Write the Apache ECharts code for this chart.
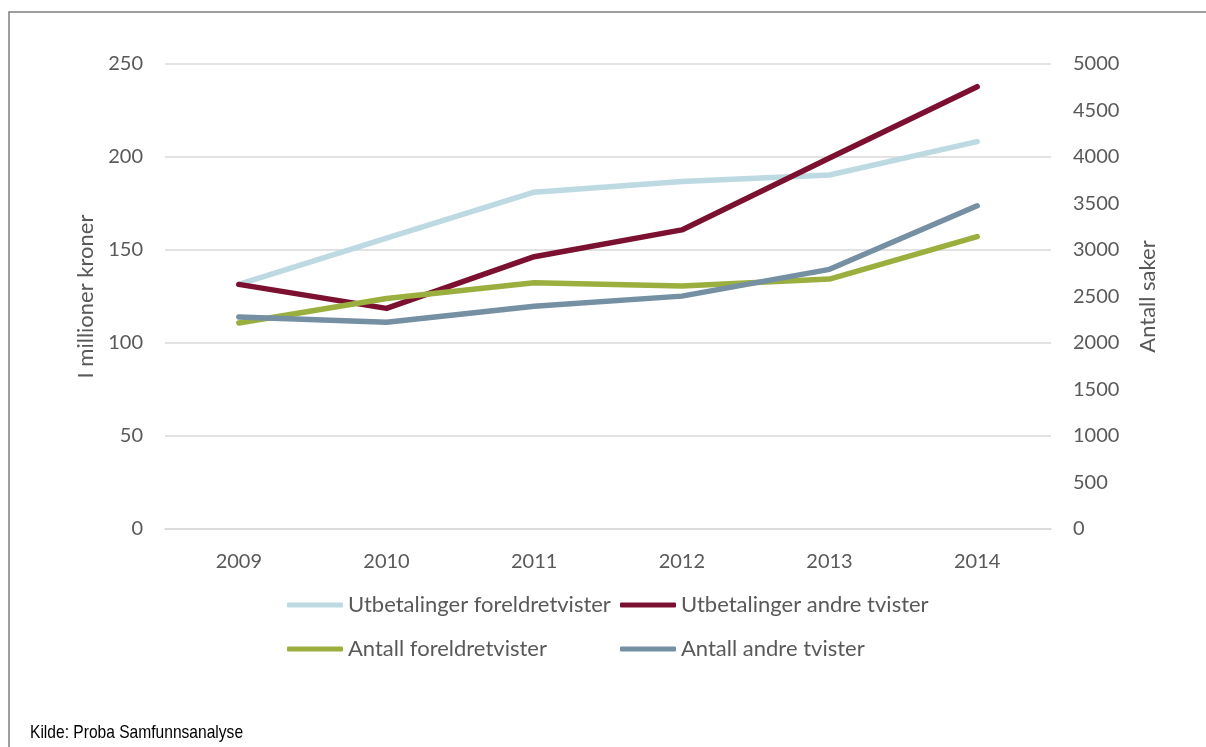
<!DOCTYPE html>
<html>
<head>
<meta charset="utf-8">
<script src="https://cdn.jsdelivr.net/npm/echarts@6/dist/echarts.min.js"></script>
<style>
  html, body { margin: 0; padding: 0; background: #fff; }
  #chart { width: 1206px; height: 747px; }
</style>
</head>
<body>
<div id="chart"></div>
<script>
const years = ['2009', '2010', '2011', '2012', '2013', '2014']

// I millioner kroner (venstre akse)
const utbetalingerForeldre = [131.5, 156.4, 181.1, 186.8, 190.3, 208.3]
const utbetalingerAndre = [131.5, 118.6, 146.4, 160.8, 199.5, 237.8]

// Antall saker (hoyre akse)
const antallForeldre = [2216, 2479, 2647, 2612, 2687, 3144]
const antallAndre = [2280, 2223, 2396, 2504, 2792, 3475]

const textColor = '#595959'
const gridColor = '#d9d9d9'
const font = 'Lato'

const chart = echarts.init(document.getElementById('chart'))

function lineSeries(name, data, color, yAxisIndex) {
  return {
    name,
    type: 'line',
    yAxisIndex,
    data,
    symbol: 'none',
    lineStyle: { width: 5.5, color, cap: 'round', join: 'round' },
    itemStyle: { color },
  }
}

const legendBase = {
  orient: 'vertical',
  top: 594,
  padding: 0,
  itemWidth: 56,
  itemHeight: 5,
  itemGap: 22,
  icon: 'roundRect',
  textStyle: { color: textColor, fontFamily: font, fontSize: 22 },
}

chart.setOption({
  animation: false,
  backgroundColor: '#fff',
  grid: { left: 165, right: 155, top: 64, bottom: 218 },
  legend: [
    { ...legendBase, left: 287, data: ['Utbetalinger foreldretvister', 'Antall foreldretvister'] },
    { ...legendBase, left: 620, data: ['Utbetalinger andre tvister', 'Antall andre tvister'] },
  ],
  xAxis: {
    type: 'category',
    data: years,
    boundaryGap: true,
    axisLine: { lineStyle: { color: gridColor, width: 1.5 } },
    axisTick: { show: false },
    axisLabel: { color: textColor, fontFamily: font, fontSize: 20, margin: 23 },
  },
  yAxis: [
    {
      type: 'value',
      min: 0,
      max: 250,
      interval: 50,
      name: 'I millioner kroner',
      nameLocation: 'middle',
      nameRotate: 90,
      nameGap: 66,
      nameTextStyle: { color: textColor, fontFamily: font, fontSize: 22 },
      axisLine: { show: false },
      axisTick: { show: false },
      axisLabel: { color: textColor, fontFamily: font, fontSize: 20, margin: 22 },
      splitLine: { lineStyle: { color: gridColor, width: 1.5 } },
    },
    {
      type: 'value',
      position: 'right',
      min: 0,
      max: 5000,
      interval: 500,
      name: 'Antall saker',
      nameLocation: 'middle',
      nameRotate: 90,
      nameGap: 86,
      nameTextStyle: { color: textColor, fontFamily: font, fontSize: 22 },
      axisLine: { show: false },
      axisTick: { show: false },
      axisLabel: {
        color: textColor, fontFamily: font, fontSize: 20, margin: 22,
        formatter: v => String(v),
      },
      splitLine: { show: false },
    },
  ],
  series: [
    lineSeries('Utbetalinger foreldretvister', utbetalingerForeldre, '#bddae2', 0),
    lineSeries('Utbetalinger andre tvister', utbetalingerAndre, '#7b1030', 0),
    lineSeries('Antall foreldretvister', antallForeldre, '#9baf3f', 1),
    lineSeries('Antall andre tvister', antallAndre, '#7590a2', 1),
  ],
  graphic: [
    {
      type: 'rect',
      shape: { x: 9, y: 12, width: 1300, height: 800 },
      style: { fill: 'none', stroke: '#808080', lineWidth: 1.5 },
      silent: true,
    },
    {
      type: 'text',
      x: 30,
      y: 733,
      scaleX: 0.82,
      style: {
        text: 'Kilde: Proba Samfunnsanalyse',
        fill: '#000',
        font: '19px "Liberation Sans", sans-serif',
        verticalAlign: 'middle',
      },
    },
  ],
})
</script>
</body>
</html>
